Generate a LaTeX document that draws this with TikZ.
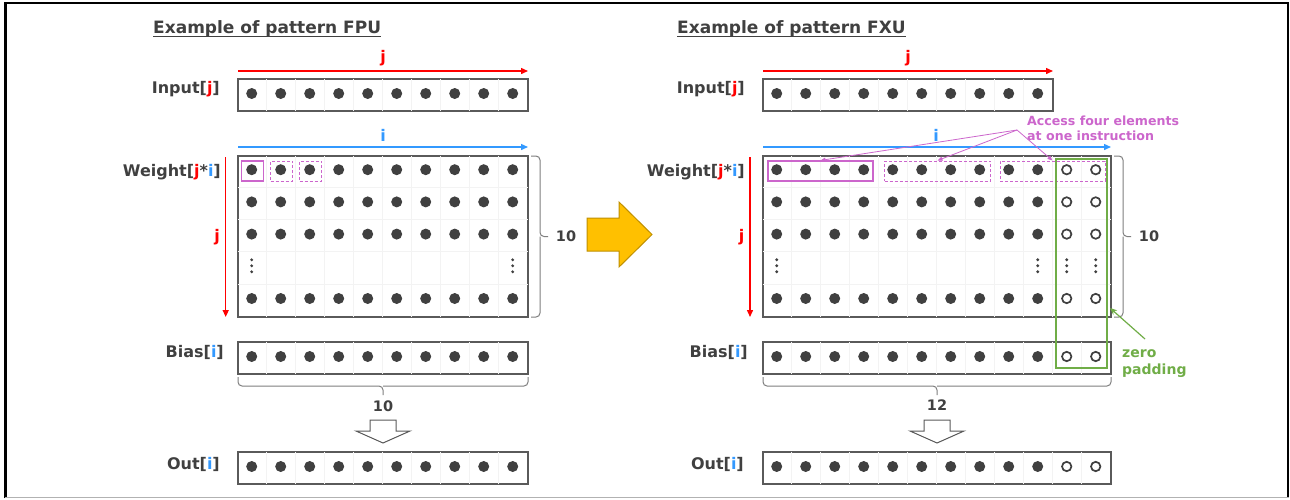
\documentclass[tikz,border=0pt]{standalone}
\usepackage{fontspec}
\setmainfont{DejaVu Sans}
\usetikzlibrary{arrows.meta,calc}
\definecolor{ink}{HTML}{404040}
\definecolor{boxc}{HTML}{5A5A5A}
\definecolor{gridc}{HTML}{F3F3F3}
\definecolor{bracec}{HTML}{7F7F7F}
\definecolor{jred}{HTML}{FF0000}
\definecolor{iblue}{HTML}{3399FF}
\definecolor{acc}{HTML}{CC66CC}
\definecolor{pad}{HTML}{70AD47}
\definecolor{gold}{HTML}{FFC000}
\definecolor{golddark}{HTML}{BF9000}

\begin{document}
\begin{tikzpicture}[x=1pt,y=-1pt,
  boxv/.style={draw=boxc, line width=1.6pt, inner sep=0pt, minimum height=32pt},
  dot/.style={circle, fill=ink, inner sep=0pt, minimum size=11pt},
  hollow/.style={circle, draw=ink, line width=1.7pt, inner sep=0pt, minimum size=9.4pt},
  gridln/.style={draw=gridc, line width=0.8pt},
  lbl/.style={font=\fontsize{16}{19}\selectfont\bfseries, text=ink, inner sep=0pt, anchor=base east},
  ttl/.style={font=\fontsize{17}{20}\selectfont\bfseries, text=ink, inner sep=0pt, anchor=base west},
  idx/.style={font=\fontsize{16}{19}\selectfont\bfseries, inner sep=0pt},
  num/.style={font=\fontsize{14.5}{17}\selectfont\bfseries, text=ink, inner sep=0pt},
  jarr/.style={draw=jred, line width=1.4pt, -{Triangle[length=7pt,width=6pt]}},
  iarr/.style={draw=iblue, line width=1.4pt, -{Triangle[length=7pt,width=6pt]}},
  accbox/.style={draw=acc, line width=1.2pt, inner sep=0pt, minimum height=20pt},
  accdash/.style={accbox, line width=1pt, dash pattern=on 3pt off 2pt},
  accarr/.style={draw=acc, line width=0.8pt, -{Triangle[length=5pt,width=4pt]}},
  curly/.style={draw=bracec, line width=1pt, rounded corners=4pt},
  blockarr/.style={draw=boxc, line width=1pt, fill=white},
]
\useasboundingbox (0,0) rectangle (1290,499);
\fill[white] (0,0) rectangle (1290,499);

% page frame
\draw[black, line width=2.2pt] (5.5,498) -- (5.5,3) -- (1288,3) -- (1288,498);
\draw[gray!60, line width=1.5pt] (5,497.5) -- (1289,497.5);

% ================= pattern FPU =================
\node[ttl] (tL) at (153,33) {Example of pattern FPU};
\draw[ink, line width=1.4pt] ([yshift=-3.5pt]tL.base west) -- ([yshift=-3.5pt]tL.base east);

% input vector
\node[boxv, minimum width=290pt] (inL) at (383,95) {};
\foreach \k in {1,...,9} \draw[gridln] ($(inL.north west)+(\k*29,1)$) -- ($(inL.south west)+(\k*29,-1)$);
\foreach \k in {0,...,9} \node[dot] (inL-\k) at ($(inL.west)+(14.5+\k*29,-1.5)$) {};
\node[lbl] (inLl) at (220,93) {Input[{\color{jred}j}]};
\coordinate (jLa) at (238,71);
\coordinate (jLb) at (528,71);
\draw[jarr] (jLa) -- (jLb);
\node[idx, text=jred] (jLl) at (383,58) {j};

% weight matrix
\coordinate (iLa) at (238,147);
\coordinate (iLb) at (528,147);
\draw[iarr] (iLa) -- (iLb);
\node[idx, text=iblue] (iLl) at (383,135) {i};
\node[boxv, minimum width=290pt, minimum height=161pt] (wL) at (383,236.5) {};
\foreach \k in {1,...,9} \draw[gridln] ($(wL.north west)+(\k*29,1)$) -- ($(wL.south west)+(\k*29,-1)$);
\foreach \r in {1,...,4} \draw[gridln] ($(wL.north west)+(1,\r*32.2)$) -- ($(wL.north east)+(-1,\r*32.2)$);
\foreach \r in {0,1,2,4} \foreach \k in {0,...,9}
  \node[dot] (wL-\r-\k) at ($(wL.north west)+(14.5+\k*29,14.5+\r*32.2)$) {};
\foreach \k in {0,9} \foreach \d in {-6,0,6}
  \fill[ink] ($(wL.north west)+(14.5+\k*29,110.6+\d)$) circle[radius=1.6pt];
\node[lbl] (wLl) at (221,176) {Weight[{\color{jred}j}*{\color{iblue}i}]};
\coordinate (jLc) at (225.7,157);
\coordinate (jLd) at (225.7,317);
\draw[jarr] (jLc) -- (jLd);
\node[idx, text=jred] (jLm) at (217,237) {j};
% accesses, one element at a time
\node[accbox, minimum width=22pt] (aL1) at (252.5,171) {};
\node[accdash, minimum width=22pt] (aL2) at (281.5,171) {};
\node[accdash, minimum width=22pt] (aL3) at (310.5,171) {};
% row count brace
\draw[curly] (531,156) -| (540,236.5) -- (548,236.5);
\draw[curly] (531,317) -| (540,236.5);
\node[num] (nL1) at (566,236.5) {10};

% bias vector
\node[boxv, minimum width=290pt] (bL) at (383,358) {};
\foreach \k in {1,...,9} \draw[gridln] ($(bL.north west)+(\k*29,1)$) -- ($(bL.south west)+(\k*29,-1)$);
\foreach \k in {0,...,9} \node[dot] (bL-\k) at ($(bL.west)+(14.5+\k*29,-1.5)$) {};
\node[lbl] (bLl) at (224,357.5) {Bias[{\color{iblue}i}]};
\draw[curly] (238,377) |- (383,386) -- (383,395);
\draw[curly] (528,377) |- (383,386);
\node[num] (nL2) at (383,406) {10};

% output vector
\draw[blockarr] (370,420) -- (396,420) -- (396,431) -- (410,431) -- (383,443) -- (356,431) -- (370,431) -- cycle;
\node[boxv, minimum width=290pt] (oL) at (383,468) {};
\foreach \k in {1,...,9} \draw[gridln] ($(oL.north west)+(\k*29,1)$) -- ($(oL.south west)+(\k*29,-1)$);
\foreach \k in {0,...,9} \node[dot] (oL-\k) at ($(oL.west)+(14.5+\k*29,-1.5)$) {};
\node[lbl] (oLl) at (220,469) {Out[{\color{iblue}i}]};

% ================= transition arrow =================
\draw[fill=gold, draw=golddark, line width=1pt] (587,218) -- (619,218) -- (619,202) -- (652,234.5) -- (619,267) -- (619,251) -- (587,251) -- cycle;

% ================= pattern FXU =================
\node[ttl] (tR) at (677,33) {Example of pattern FXU};
\draw[ink, line width=1.4pt] ([yshift=-3.5pt]tR.base west) -- ([yshift=-3.5pt]tR.base east);

% input vector
\node[boxv, minimum width=290pt] (inR) at (908,95) {};
\foreach \k in {1,...,9} \draw[gridln] ($(inR.north west)+(\k*29,1)$) -- ($(inR.south west)+(\k*29,-1)$);
\foreach \k in {0,...,9} \node[dot] (inR-\k) at ($(inR.west)+(14.5+\k*29,-1.5)$) {};
\node[lbl] (inRl) at (745,93) {Input[{\color{jred}j}]};
\coordinate (jRa) at (763,71);
\coordinate (jRb) at (1053,71);
\draw[jarr] (jRa) -- (jRb);
\node[idx, text=jred] (jRl) at (908,58) {j};

% weight matrix, padded to 12 columns
\coordinate (iRa) at (763,147);
\coordinate (iRb) at (1111,147);
\draw[iarr] (iRa) -- (iRb);
\node[idx, text=iblue] (iRl) at (936,135) {i};
\node[boxv, minimum width=348pt, minimum height=161pt] (wR) at (937,236.5) {};
\foreach \k in {1,...,11} \draw[gridln] ($(wR.north west)+(\k*29,1)$) -- ($(wR.south west)+(\k*29,-1)$);
\foreach \r in {1,...,4} \draw[gridln] ($(wR.north west)+(1,\r*32.2)$) -- ($(wR.north east)+(-1,\r*32.2)$);
\foreach \r in {0,1,2,4} \foreach \k in {0,...,11}{
  \ifnum\k>9 \def\dotkind{hollow}\else\def\dotkind{dot}\fi
  \node[\dotkind] (wR-\r-\k) at ($(wR.north west)+(14.5+\k*29,14.5+\r*32.2)$) {};
}
\foreach \k in {0,9,10,11} \foreach \d in {-6,0,6}
  \fill[ink] ($(wR.north west)+(14.5+\k*29,110.6+\d)$) circle[radius=1.6pt];
\node[lbl] (wRl) at (745,176) {Weight[{\color{jred}j}*{\color{iblue}i}]};
\coordinate (jRc) at (750,157);
\coordinate (jRd) at (750,317);
\draw[jarr] (jRc) -- (jRd);
\node[idx, text=jred] (jRm) at (741.5,237) {j};
% accesses, four elements per instruction
\node[accbox, minimum width=105pt] (aR1) at (820.5,171) {};
\node[accdash, minimum width=106pt] (aR2) at (937.5,171) {};
\node[accdash, minimum width=105pt] (aR3) at (1052.5,171) {};
\node[font=\fontsize{12.6}{15.7}\selectfont\bfseries, text=acc, inner sep=0pt, anchor=north west, align=left] (accT) at (1027,115.4) {Access four elements\\at one instruction};
\coordinate (accS) at (1017,130);
\draw[accarr] (accS) -- (aR1.north);
\draw[accarr] (accS) -- (aR2.north);
\draw[accarr] (accS) -- (aR3.north);
% row count brace
\draw[curly] (1114,156) -| (1123,236.5) -- (1131,236.5);
\draw[curly] (1114,317) -| (1123,236.5);
\node[num] (nR1) at (1149,236.5) {10};

% bias vector
\node[boxv, minimum width=348pt] (bR) at (937,358) {};
\foreach \k in {1,...,11} \draw[gridln] ($(bR.north west)+(\k*29,1)$) -- ($(bR.south west)+(\k*29,-1)$);
\foreach \k in {0,...,11}{
  \ifnum\k>9 \def\dotkind{hollow}\else\def\dotkind{dot}\fi
  \node[\dotkind] (bR-\k) at ($(bR.west)+(14.5+\k*29,-1.5)$) {};
}
\node[lbl] (bRl) at (748,357.5) {Bias[{\color{iblue}i}]};
\draw[curly] (763,377) |- (937,386) -- (937,395);
\draw[curly] (1111,377) |- (937,386);
\node[num] (nR2) at (937,405) {12};

% zero padding columns
\node[draw=pad, line width=1.3pt, inner sep=0pt, minimum width=51pt, minimum height=209pt] (zpad) at (1081.5,263.5) {};
\node[font=\fontsize{14}{17}\selectfont\bfseries, text=pad, inner sep=0pt, anchor=north west, align=left] (zpT) at (1122,349) {zero\\padding};
\coordinate (zpS) at (1145,339);
\coordinate (zpE) at (1110,308);
\draw[draw=pad, line width=1.2pt, -{Stealth[length=7pt,width=6pt]}] (zpS) -- (zpE);

% output vector
\draw[blockarr] (924,420) -- (950,420) -- (950,431) -- (964,431) -- (937,443) -- (910,431) -- (924,431) -- cycle;
\node[boxv, minimum width=348pt] (oR) at (937,468) {};
\foreach \k in {1,...,11} \draw[gridln] ($(oR.north west)+(\k*29,1)$) -- ($(oR.south west)+(\k*29,-1)$);
\foreach \k in {0,...,11}{
  \ifnum\k>9 \def\dotkind{hollow}\else\def\dotkind{dot}\fi
  \node[\dotkind] (oR-\k) at ($(oR.west)+(14.5+\k*29,-1.5)$) {};
}
\node[lbl] (oRl) at (744,469) {Out[{\color{iblue}i}]};
\end{tikzpicture}
\end{document}
